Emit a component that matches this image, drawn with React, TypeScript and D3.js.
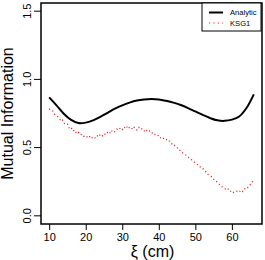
import React, { useEffect, useRef } from 'react';
import * as d3 from 'd3';

// Analytic mutual information, sampled every 2 cm
const analyticXi = [10, 12, 14, 16, 18, 20, 22, 24, 26, 28, 30, 32, 34, 36, 38, 40, 42, 44, 46, 48, 50, 52, 54, 56, 58, 60, 62, 64, 66];
const analyticMI = [0.868, 0.81, 0.748, 0.703, 0.68, 0.683, 0.7, 0.725, 0.755, 0.785, 0.81, 0.83, 0.845, 0.853, 0.856, 0.853, 0.843, 0.83, 0.812, 0.79, 0.765, 0.74, 0.717, 0.7, 0.696, 0.705, 0.728, 0.79, 0.89];

// KSG1 estimate, sampled every 0.5 cm from 10 to 66
const ksgStart = 10;
const ksgStep = 0.5;
const ksgMI = [
  0.785, 0.772, 0.768, 0.745, 0.738, 0.722, 0.705, 0.712, 0.682, 0.668, // 10 - 14.5
  0.672, 0.641, 0.648, 0.622, 0.628, 0.603, 0.612, 0.593, 0.598, 0.582, // 15 - 19.5
  0.588, 0.574, 0.585, 0.566, 0.58, 0.571, 0.59, 0.578, 0.596, 0.585, // 20 - 24.5
  0.604, 0.593, 0.612, 0.602, 0.627, 0.61, 0.618, 0.636, 0.628, 0.645, // 25 - 29.5
  0.632, 0.652, 0.638, 0.66, 0.642, 0.634, 0.655, 0.641, 0.628, 0.648, // 30 - 34.5
  0.632, 0.64, 0.622, 0.634, 0.615, 0.622, 0.605, 0.612, 0.595, 0.586, // 35 - 39.5
  0.59, 0.572, 0.578, 0.56, 0.562, 0.545, 0.548, 0.528, 0.53, 0.508, // 40 - 44.5
  0.5, 0.482, 0.478, 0.462, 0.455, 0.442, 0.43, 0.416, 0.41, 0.398, // 45 - 49.5
  0.39, 0.378, 0.372, 0.352, 0.348, 0.33, 0.322, 0.302, 0.295, 0.285, // 50 - 54.5
  0.268, 0.262, 0.245, 0.232, 0.222, 0.206, 0.202, 0.188, 0.196, 0.178, // 55 - 59.5
  0.185, 0.17, 0.176, 0.182, 0.174, 0.19, 0.178, 0.198, 0.195, 0.212, // 60 - 64.5
  0.228, 0.242, 0.272 // 65 - 66
];

const xTicks = [10, 20, 30, 40, 50, 60];
const yTicks = [0.0, 0.5, 1.0, 1.5];
const legendLabels = ['Analytic', 'KSG1'];

const W = 265;
const H = 260;
const margin = { top: 3, right: 3, bottom: 36, left: 41 };
const FONT = '"Liberation Sans", Arial, Helvetica, sans-serif';
const RED = '#e8241f';

const App = () => {
  const svgRef = useRef<SVGSVGElement>(null);

  useEffect(() => {
    const svg = d3.select(svgRef.current);
    svg.selectAll('*').remove();

    const x = d3.scaleLinear().domain([7.76, 68.24]).range([margin.left, W - margin.right]);
    const y = d3.scaleLinear().domain([-0.06, 1.56]).range([H - margin.bottom, margin.top]);

    const g = svg.append('g');

    // analytic curve
    const analytic = analyticXi.map((xi, i) => ({ xi, mi: analyticMI[i] }));
    g.append('path')
      .datum(analytic)
      .attr('fill', 'none')
      .attr('stroke', '#000')
      .attr('stroke-width', 2)
      .attr('d', d3.line<{ xi: number; mi: number }>()
        .x(d => x(d.xi))
        .y(d => y(d.mi))
        .curve(d3.curveCatmullRom));

    // KSG1 estimate, dotted
    const ksg = ksgMI.map((mi, i) => ({ xi: ksgStart + i * ksgStep, mi }));
    g.append('path')
      .datum(ksg)
      .attr('fill', 'none')
      .attr('stroke', RED)
      .attr('stroke-width', 1.2)
      .attr('stroke-dasharray', '1.2 2.6')
      .attr('d', d3.line<{ xi: number; mi: number }>()
        .x(d => x(d.xi))
        .y(d => y(d.mi)));

    // plot frame
    g.append('rect')
      .attr('x', margin.left)
      .attr('y', margin.top)
      .attr('width', W - margin.left - margin.right)
      .attr('height', H - margin.top - margin.bottom)
      .attr('fill', 'none')
      .attr('stroke', '#000')
      .attr('stroke-width', 1.5);

    // x axis
    const xAxis = g.append('g')
      .attr('transform', `translate(0,${H - margin.bottom})`)
      .call(d3.axisBottom(x).tickValues(xTicks).tickSize(6).tickPadding(3).tickFormat(d3.format('d')));
    xAxis.select('.domain').remove();
    xAxis.selectAll('text').attr('font-size', 11).attr('font-family', FONT).attr('fill', '#000');

    // y axis, labels rotated as in base R graphics
    const yAxis = g.append('g')
      .attr('transform', `translate(${margin.left},0)`)
      .call(d3.axisLeft(y).tickValues(yTicks).tickSize(7).tickFormat(d3.format('.1f')));
    yAxis.select('.domain').remove();
    yAxis.selectAll('.tick').attr('transform', 'translate(0,0)');
    yAxis.selectAll('.tick line').attr('y1', (d: any) => y(d)).attr('y2', (d: any) => y(d));
    yAxis.selectAll('text')
      .attr('font-size', 11)
      .attr('font-family', FONT)
      .attr('fill', '#000')
      .attr('x', 0)
      .attr('y', 0)
      .attr('dy', null)
      .attr('text-anchor', 'middle')
      .attr('dominant-baseline', 'central')
      .attr('transform', (d: any) => `translate(-14,${y(d)}) rotate(-90)`);

    // axis titles
    svg.append('text')
      .attr('x', (margin.left + W - margin.right) / 2 + 1)
      .attr('y', 257)
      .attr('text-anchor', 'middle')
      .attr('font-size', 16)
      .attr('font-family', FONT)
      .text('ξ (cm)');

    svg.append('text')
      .attr('transform', `translate(13,${(margin.top + H - margin.bottom) / 2}) rotate(-90)`)
      .attr('text-anchor', 'middle')
      .attr('font-size', 16)
      .attr('font-family', FONT)
      .text('Mutual Information');

    // legend
    const lg = svg.append('g').attr('transform', 'translate(202,3)');
    lg.append('rect')
      .attr('width', 59)
      .attr('height', 28)
      .attr('fill', '#fff')
      .attr('stroke', '#000')
      .attr('stroke-width', 1);
    lg.append('line')
      .attr('x1', 7).attr('x2', 21).attr('y1', 9.5).attr('y2', 9.5)
      .attr('stroke', '#000').attr('stroke-width', 2);
    lg.append('line')
      .attr('x1', 7).attr('x2', 21).attr('y1', 20).attr('y2', 20)
      .attr('stroke', RED).attr('stroke-width', 1.2).attr('stroke-dasharray', '1.2 3.2');
    legendLabels.forEach((label, i) => {
      lg.append('text')
        .attr('x', 28)
        .attr('y', 9.5 + i * 10.5)
        .attr('dominant-baseline', 'central')
        .attr('font-size', 7.6)
        .attr('font-family', FONT)
        .text(label);
    });
  }, []);

  return (
    <svg
      ref={svgRef}
      width={W}
      height={H}
      style={{ position: 'absolute', left: 0, top: 0, background: '#fff' }}
    />
  );
};

export default App;
